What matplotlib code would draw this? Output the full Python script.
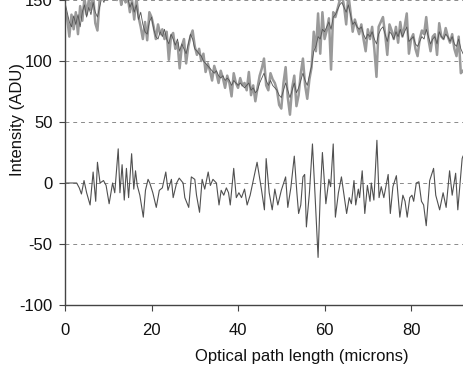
import numpy as np
from matplotlib import pyplot as plt

# optical path length grid for the spectrum (microns)
path = np.arange(0, 92.5, 0.5)

observed = [
    142, 135, 120, 138, 126, 140, 122, 145, 133, 152,
    138, 150, 142, 155, 131, 125, 150, 158, 152, 160,
    156, 162, 155, 160, 150, 158, 146, 155, 148, 152,
    140, 150, 134, 152, 136, 128, 118, 132, 117, 140,
    136, 128, 118, 130, 122, 126, 118, 124, 101, 120,
    123, 110, 115, 94, 112, 118, 98, 112, 120, 125,
    112, 105, 110, 100, 106, 91, 98, 92, 84, 96,
    90, 82, 92, 86, 78, 88, 82, 71, 90, 82,
    78, 86, 80, 82, 76, 91, 72, 80, 67, 78,
    88, 94, 102, 80, 76, 90, 85, 82, 76, 64,
    61, 82, 95, 70, 56, 78, 88, 63, 72, 90,
    102, 80, 69, 85, 95, 124, 108, 139, 106, 140,
    118, 125, 135, 93, 140, 136, 143, 150, 155, 145,
    130, 155, 140, 124, 134, 128, 122, 130, 118, 108,
    126, 118, 128, 110, 87, 128, 132, 136, 122, 105,
    130, 125, 118, 128, 115, 132, 120, 128, 139, 106,
    118, 122, 110, 104, 118, 125, 122, 136, 118, 108,
    120, 122, 105, 131, 120, 118, 127, 120, 115, 122,
    110, 104, 120, 90, 92,
]

model = [
    148, 140, 132, 128, 137, 130, 138, 128, 140, 146,
    136, 144, 138, 148, 140, 136, 144, 152, 148, 155,
    152, 158, 154, 158, 152, 156, 150, 154, 150, 152,
    144, 148, 140, 146, 134, 140, 130, 124, 122, 132,
    136, 126, 120, 118, 124, 120, 126, 118, 114, 122,
    118, 113, 118, 108, 114, 110, 106, 114, 122, 118,
    110, 108, 106, 104, 100, 98, 96, 94, 92, 90,
    92, 88, 86, 88, 84, 86, 84, 80, 84, 82,
    80, 82, 80, 78, 80, 82, 76, 78, 74, 76,
    82, 86, 90, 84, 80, 84, 80, 78, 76, 72,
    70, 76, 82, 76, 70, 76, 82, 74, 78, 84,
    90, 84, 80, 88, 96, 108, 112, 120, 118, 126,
    124, 128, 132, 126, 136, 138, 142, 146, 148, 144,
    140, 146, 138, 130, 132, 128, 126, 128, 122, 118,
    122, 120, 124, 118, 114, 122, 126, 128, 122, 116,
    124, 122, 118, 124, 120, 126, 120, 124, 128, 116,
    118, 120, 114, 112, 116, 120, 118, 126, 120, 114,
    118, 120, 114, 124, 120, 118, 122, 120, 116, 120,
    114, 112, 118, 110, 106,
]

resid_x = [
    0, 2.7, 3.3, 3.8, 4.4, 5, 5.8, 6.5, 7.1, 7.5, 8.1, 8.5, 8.9, 9.5, 10.2,
    11, 11.5, 12.3, 12.7, 13.2, 13.7, 14.2, 14.7, 15.4, 15.9, 16.3, 16.7,
    17.3, 18.1, 18.6, 19.2, 19.6, 20.3, 21.1, 21.8, 22.5, 23.3, 23.8, 24.6,
    25, 25.8, 26.4, 27.3, 27.7, 28.6, 29.2, 30, 30.4, 31.1, 31.7, 32.3, 33.1,
    33.6, 34.2, 35, 35.6, 36.1, 36.7, 37.3, 37.8, 38.2, 39, 39.6, 40.2, 40.8,
    41.5, 42.1, 42.8, 43.4, 44.4, 45.4, 46.1, 46.5, 47.2, 47.9, 48.5, 49.2,
    50, 51, 51.5, 52.2, 53, 53.6, 54, 54.5, 55, 55.4, 55.8, 56.5, 57.2, 57.8,
    58.5, 59, 59.5, 60.3, 61, 61.4, 62, 62.5, 63.2, 63.9, 64.5, 65.1, 65.7,
    66.2, 66.8, 67.2, 67.8, 68.1, 68.7, 69.3, 69.9, 70.5, 70.8, 71.4, 72.1,
    72.6, 73.1, 73.7, 74.7, 75.2, 75.8, 76.6, 77.4, 78.1, 78.6, 79.1, 79.7,
    80.2, 80.6, 81.2, 81.8, 82.4, 82.9, 83.5, 84.3, 85.2, 85.7, 86.6, 87.4,
    88.1, 88.9, 89.5, 90.3, 90.8, 91.8, 92,
]
resid_y = [
    0, 0, -4, -9, 2, -8, -18, 9, -15, 17, 0, 1, 2, -2, -17,
    0, -8, 28, -8, 15, -14, 12, -12, 24, -5, 10, -2,
    -10, -28, -6, 3, 0, -8, -20, -6, -4, 9, -6, 3,
    -12, 0, 4, 0, -12, -20, 5, 3, -10, -24, 3, -5, 9,
    -2, 3, 0, -18, -6, -10, -4, -8, -18, 12, -12, -8, -12,
    -5, -18, -10, 0, 17, -5, -22, 20, -8, -22, -5, -18,
    -6, 5, -20, -4, 22, -8, -25, -18, 5, 7, -36, -8, 32, -10,
    -61, -10, 25, -17, 3, -3, 32, -28, -8, 5, -10, -25, -12,
    -17, 2, -18, -5, -12, 10, -25, -2, -15, 0, -14, 35,
    -12, -3, -12, 7, -25, -3, 6, -28, -10, -15, -28, -12,
    -10, -15, 0, 1, -15, -18, -35, 2, 12, -10, -22, -8,
    -20, 10, -10, 8, -22, 20, 22,
]

xticks = [0, 20, 40, 60, 80]
yticks = [-100, -50, 0, 50, 100, 150]


def plot():
    plt.rcParams['font.family'] = ['Liberation Sans', 'DejaVu Sans']
    plt.rcParams['axes.unicode_minus'] = False

    fig = plt.figure(figsize=(4.63, 3.69), dpi=100)
    ax = fig.add_axes([65 / 463, 64 / 369, 398 / 463, 305 / 369])

    # grid
    for v in yticks[1:]:
        ax.axhline(y=v, c='#8a8a8a', lw=0.7, ls=(0, (4, 4)), zorder=1)

    ax.plot(path, observed, c='#9a9a9a', lw=1.8, zorder=2)
    ax.plot(path, model, c='#555555', lw=0.6, zorder=3)
    ax.plot(resid_x, resid_y, c='#505050', lw=0.8, zorder=3)

    ax.set_xlim(0, 92)
    ax.set_ylim(-100, 150)
    ax.set_xticks(xticks)
    ax.set_yticks(yticks)

    for s in ['top', 'right']:
        ax.spines[s].set_visible(False)
    for s in ['left', 'bottom']:
        ax.spines[s].set_color('#444444')
        ax.spines[s].set_linewidth(1.0)

    ax.tick_params(axis='both', direction='out', length=4, width=0.8,
                   color='#444444', labelsize=12, labelcolor='#111111')
    ax.tick_params(axis='x', pad=9)
    ax.tick_params(axis='y', pad=5)

    ax.set_xlabel('Optical path length (microns)', fontsize=12, color='#111111')
    ax.set_ylabel('Intensity (ADU)', fontsize=12, color='#111111')
    ax.xaxis.set_label_coords(0.595, -0.145)
    ax.yaxis.set_label_coords(-0.10, 0.607)

    plt.savefig('out.png', dpi=100)
    plt.close()


if __name__ == '__main__':
    plot()
